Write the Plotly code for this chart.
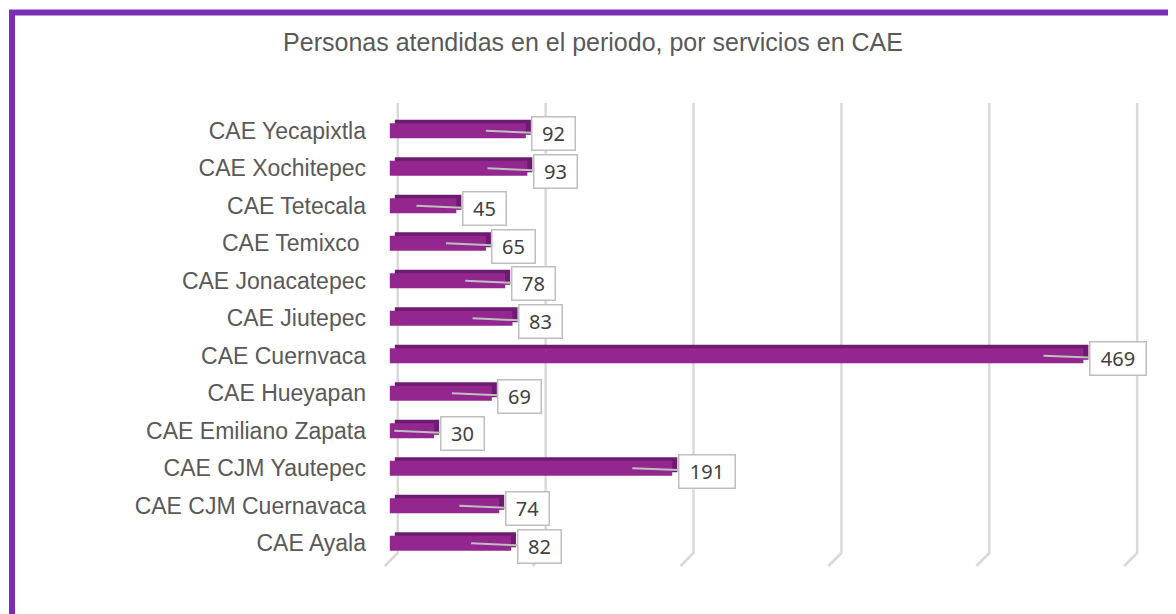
import plotly.graph_objects as go

# datos del grafico (de abajo hacia arriba)
centros = ["CAE Ayala", "CAE CJM Cuernavaca", "CAE CJM Yautepec", "CAE Emiliano Zapata",
           "CAE Hueyapan", "CAE Cuernvaca", "CAE Jiutepec", "CAE Jonacatepec",
           "CAE Temixco ", "CAE Tetecala", "CAE Xochitepec", "CAE Yecapixtla"]
personas = [82, 74, 191, 30, 69, 469, 83, 78, 65, 45, 93, 92]
ticks_x = [0, 100, 200, 300, 400, 500]

titulo = "Personas atendidas en el periodo, por servicios en CAE"

# la pagina agrega 8px de margen al body, se compensa aqui
M = 8
W, H = 1176 - M, 614 - M
# area del grafico en pixeles de la pagina
L, R, T, B = 375 - M, 1144 - M, 112 - M, 562 - M
x_rango = [-10, 510]


def px_x(p):
    return (p - M - L) / (R - L)


def px_y(p):
    return (B - (p - M)) / (B - T)


fig = go.Figure()

# cara superior/lateral (efecto 3D)
fig.add_trace(go.Bar(
    y=centros, x=personas, base=3.4, orientation="h",
    width=0.4, offset=-0.2 + 0.095,
    marker=dict(color="#6C1B6E", line=dict(width=0)),
    hoverinfo="skip", showlegend=False,
))
# cara frontal
fig.add_trace(go.Bar(
    y=centros, x=personas, orientation="h",
    width=0.4, offset=-0.2,
    marker=dict(color="#93278F", line=dict(width=0)),
    showlegend=False,
))

shapes = []
# lineas de cuadricula con esquina en perspectiva
for t in ticks_x:
    shapes.append(dict(type="path", xref="x", yref="paper",
                       path=f"M {t + 5.4},{px_y(103)} L {t + 5.4},{px_y(553)} L {t - 3.4},{px_y(566)}",
                       line=dict(color="#D9D9D9", width=2.5), layer="below"))

# marco morado
shapes.append(dict(type="line", xref="paper", yref="paper",
                   x0=px_x(9), x1=px_x(1176), y0=px_y(12.5), y1=px_y(12.5),
                   line=dict(color="#7B2FB5", width=6)))
shapes.append(dict(type="line", xref="paper", yref="paper",
                   x0=px_x(12), x1=px_x(12), y0=px_y(10), y1=px_y(614),
                   line=dict(color="#7B2FB5", width=6)))

escala = (R - L) / (x_rango[1] - x_rango[0])
anotaciones = []
for c, v in zip(centros, personas):
    punta = max(v - 27, 3)
    anotaciones.append(dict(
        x=punta, y=c, xref="x", yref="y",
        text=str(v), showarrow=True, arrowhead=0,
        arrowcolor="#BFBFBF", arrowwidth=2,
        ax=(v - punta) * escala + 8 + 6.5 * len(str(v)) + 7, ay=3,
        width=14 + 13 * len(str(v)), height=30,
        font=dict(family="Noto Sans", size=20, color="#404040"),
        bgcolor="white", bordercolor="#BFBFBF", borderwidth=1.5, borderpad=1,
    ))

fig.update_layout(
    width=W, height=H,
    margin=dict(l=L, r=W - R, t=T, b=H - B),
    paper_bgcolor="white", plot_bgcolor="white",
    barmode="overlay",
    title=dict(text=titulo, x=(593 - M) / W, xref="container", xanchor="center",
               y=1 - (42 - M) / H, yref="container", yanchor="middle",
               font=dict(family="Liberation Sans", size=25, color="#595959")),
    xaxis=dict(range=x_rango, showgrid=False, zeroline=False,
               showticklabels=False, showline=False, fixedrange=True),
    yaxis=dict(categoryorder="array", categoryarray=centros, range=[-0.5, 11.5],
               showgrid=False, zeroline=False, showline=False, ticks="",
               ticklabelstandoff=8,
               tickfont=dict(family="Liberation Sans", size=23, color="#595959")),
    shapes=shapes,
    annotations=anotaciones,
)

fig.write_html("out.html")
